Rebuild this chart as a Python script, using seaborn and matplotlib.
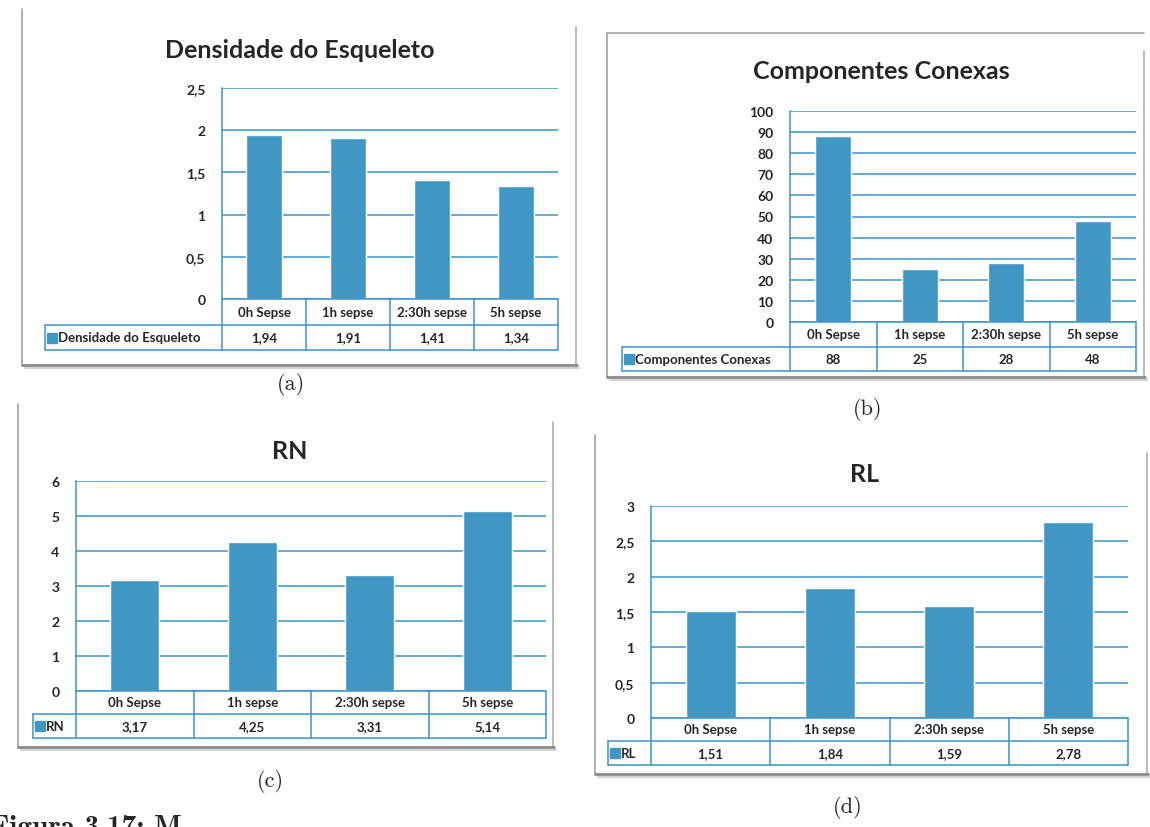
import matplotlib
matplotlib.use("Agg")
import matplotlib.pyplot as plt
import seaborn as sns
from matplotlib.lines import Line2D

# ---- data -------------------------------------------------------------
categories = ["0h Sepse", "1h sepse", "2:30h sepse", "5h sepse"]

densidade_esqueleto = [1.94, 1.91, 1.41, 1.34]
componentes_conexas = [88, 25, 28, 48]
rn_values = [3.17, 4.25, 3.31, 5.14]
rl_values = [1.51, 1.84, 1.59, 2.78]

titles = ["Densidade do Esqueleto", "Componentes Conexas", "RN", "RL"]
series_names = ["Densidade do Esqueleto", "Componentes Conexas", "RN", "RL"]
captions = ["(a)", "(b)", "(c)", "(d)"]
y_max = [2.5, 100, 6, 3]
y_step = [0.5, 10, 1, 0.5]

# ---- style ------------------------------------------------------------
sns.set_theme(style="white")
plt.rcParams["font.family"] = ["Lato", "DejaVu Sans"]

BAR = "#4197c3"
GRID = "#3b93c6"
W, H = 1150, 828

# panel geometry in pixels: plot box, table rows, legend cell, title, caption,
# frame (left, top, right, bottom) and whether the frame's top edge shows
layout = [
    dict(x0=222, x1=558, top=89, zero=300, hdr=326, val=351, leg=45,
         title=(300, 50), cap=(291, 385), frame=(22, 10, 576, 366), top_edge=False),
    dict(x0=790, x1=1136, top=112, zero=323, hdr=348, val=372, leg=622,
         title=(881, 72), cap=(868, 410), frame=(607, 34, 1144, 378), top_edge=True),
    dict(x0=76, x1=546, top=482, zero=692, hdr=715, val=739, leg=33,
         title=(290, 452), cap=(270, 782), frame=(18, 405, 553, 748), top_edge=False),
    dict(x0=651, x1=1128, top=507, zero=719, hdr=742, val=766, leg=608,
         title=(865, 475), cap=(848, 808), frame=(595, 436, 1147, 775), top_edge=False),
]
all_values = [densidade_esqueleto, componentes_conexas, rn_values, rl_values]


def fmt(v):
    return f"{v:g}".replace(".", ",")


fig = plt.figure(figsize=(W / 100, H / 100), dpi=100)
fig.patch.set_facecolor("white")


def fbox(x0, y0, x1, y1):
    """Pixel box (top-left origin) -> figure-fraction rect."""
    return [x0 / W, 1 - y1 / H, (x1 - x0) / W, (y1 - y0) / H]


def fig_line(xs, ys, **kw):
    fig.add_artist(Line2D([x / W for x in xs], [1 - y / H for y in ys],
                          transform=fig.transFigure, **kw))


for values, title, name, cap, ymax, step, L in zip(
        all_values, titles, series_names, captions, y_max, y_step, layout):
    # panel frame: thin grey sides, darker shadow along the bottom
    fx0, fy0, fx1, fy1 = L["frame"]
    fig_line([fx0, fx0], [fy0, fy1], color="#9a9a9a", lw=1.1)
    fig_line([fx1, fx1], [fy0 + 18, fy1], color="#a5a5a5", lw=1.1)
    if L["top_edge"]:
        fig_line([fx0, fx1], [fy0, fy0], color="#9a9a9a", lw=1.1)
    fig_line([fx0, fx1 + 1], [fy1, fy1], color="#8a8a8a", lw=2.0)
    fig_line([fx0 + 3, fx1 + 3], [fy1 + 2.5, fy1 + 2.5], color="#d2d2d2", lw=1.5)

    # bar chart
    ax = fig.add_axes(fbox(L["x0"], L["top"], L["x1"], L["zero"]))
    sns.barplot(x=categories, y=values, ax=ax, color=BAR, width=0.42,
                saturation=1, errorbar=None, zorder=3)
    ax.set_xlim(-0.5, 3.5)
    ax.set_ylim(0, ymax)
    n = int(round(ymax / step))
    ticks = [round(i * step, 4) for i in range(n + 1)]
    ax.set_yticks(ticks)
    ax.set_yticklabels([fmt(t) for t in ticks], fontsize=10, fontweight="bold")
    ax.yaxis.grid(True, color=GRID, lw=1.1)
    ax.set_axisbelow(True)
    ax.tick_params(axis="y", length=0, pad=12)
    ax.tick_params(axis="x", length=0, labelbottom=False)
    ax.set_xlabel("")
    ax.set_ylabel("")
    for s in ["top", "right", "bottom"]:
        ax.spines[s].set_visible(False)
    ax.spines["left"].set_color(GRID)
    ax.spines["left"].set_linewidth(1.1)
    ax.set_facecolor("none")

    # data table under the chart, sharing the category scale
    tab = fig.add_axes(fbox(L["x0"], L["zero"], L["x1"], L["val"]))
    tab.set_xlim(-0.5, 3.5)
    hdr_frac = (L["val"] - L["hdr"]) / (L["val"] - L["zero"])
    tab.set_ylim(0, 1)
    tab.axis("off")
    col_px = (L["x1"] - L["x0"]) / 4.0
    leg_left = -0.5 - (L["x0"] - L["leg"]) / col_px
    kw = dict(color=GRID, lw=1.1, clip_on=False)
    tab.plot([-0.5, 3.5], [1, 1], **kw)
    tab.plot([leg_left, 3.5], [hdr_frac, hdr_frac], **kw)
    tab.plot([leg_left, 3.5], [0, 0], **kw)
    for xb in [-0.5, 0.5, 1.5, 2.5, 3.5]:
        tab.plot([xb, xb], [0, 1], **kw)
    tab.plot([leg_left, leg_left], [0, hdr_frac], **kw)
    for i, (c, v) in enumerate(zip(categories, values)):
        tab.text(i, (1 + hdr_frac) / 2, c, ha="center", va="center",
                 fontsize=9.5, fontweight="bold")
        tab.text(i, hdr_frac / 2, fmt(v), ha="center", va="center",
                 fontsize=9.5, fontweight="bold")
    px = 1.0 / col_px
    tab.plot([leg_left + 7 * px], [hdr_frac / 2], marker="s", ms=6.5,
             color=BAR, clip_on=False, lw=0)
    tab.text(leg_left + 13 * px, hdr_frac / 2, name, ha="left", va="center",
             fontsize=9.5, fontweight="bold")

    # title and subfigure caption
    tx, ty = L["title"]
    fig.text(tx / W, 1 - ty / H, title, ha="center", va="center",
             fontsize=18, fontweight="bold")
    cx, cy = L["cap"]
    fig.text(cx / W, 1 - cy / H, cap, ha="center", va="center",
             fontsize=16, family="cmr10")

# running caption of the page, cut by the bottom edge
fig.text(-9 / W, 1 - 815 / H, "Figura 3.17: M", ha="left", va="top",
         fontsize=21, family="cmb10")

fig.savefig("out.png", dpi=100, facecolor="white")
